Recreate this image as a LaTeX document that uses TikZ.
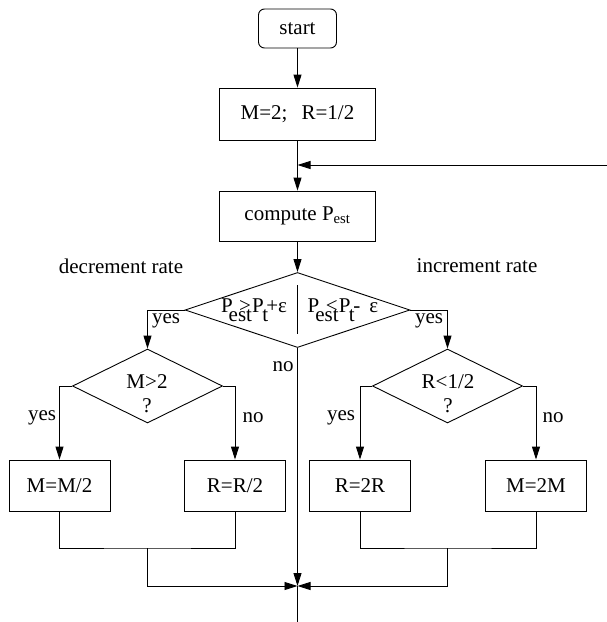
\documentclass[tikz,border=0pt]{standalone}
\usepackage{fontspec}
\setmainfont{Liberation Serif}
\usetikzlibrary{shapes.geometric,arrows.meta}
\newcommand{\lo}[2][0pt]{\rlap{\kern#1\raisebox{-9.5pt}{#2}}}
\begin{document}
\begin{tikzpicture}[x=1pt,y=-1pt,
  every node/.style={font=\fontsize{21}{24}\selectfont},
  line width=0.9pt,
  sbox/.style={draw, rectangle, minimum width=101pt, minimum height=51pt, inner sep=0pt},
  wbox/.style={draw, rectangle, minimum width=156pt, minimum height=51pt, inner sep=0pt},
  dia/.style={draw, diamond, inner sep=0pt, text=white},
  lbl/.style={inner sep=0pt},
  arr/.style={-{Triangle[length=13pt,width=8pt]}}]
\useasboundingbox (0,0) rectangle (607,622);

% top chain
\node[draw, rounded corners=6pt, minimum width=78pt, minimum height=39pt, inner sep=0pt] (start) at (297.5,28.5) {start};
\node[wbox, minimum height=52pt] (init) at (297.5,114) {M=2;\ \ \,R=1/2};
\node[wbox, minimum height=50pt] (comp) at (297.5,216) {compute P\textsubscript{est}};

% main decision
\node[dia, minimum width=225pt, minimum height=75pt] (d0) at (297.5,310) {};
\node[lbl, anchor=base] (c1) at (254,312) {P\lo[-4pt]{est}\kern6.5pt>\kern1pt P\lo[-1.5pt]{t}\kern2.5pt+ε};
\node[lbl, anchor=base] (c2) at (343,312) {P\lo[-4pt]{est}\kern6.5pt<\kern1pt P\lo[-1.5pt]{t}\kern3pt-\kern9ptε};

% sub decisions
\node[dia, minimum width=150pt, minimum height=74pt] (d1) at (147.5,386) {};
\node[lbl, align=center] (t1) at (147,394) {M>2\\?};
\node[dia, minimum width=150pt, minimum height=74pt] (d2) at (447.5,386) {};
\node[lbl, align=center] (t2) at (448,394) {R<1/2\\?};

% action boxes
\node[sbox] (b1) at (59.5,485.5) {M=M/2};
\node[sbox] (b2) at (235,485.5) {R=R/2};
\node[sbox] (b3) at (360,485.5) {R=2R};
\node[sbox] (b4) at (536,485.5) {M=2M};

% labels
\node[lbl] (ldec) at (121,266) {decrement rate};
\node[lbl] (linc) at (477,266) {increment rate};
\node[lbl] (ly0) at (166,321) {yes};
\node[lbl] (ly1) at (429,321) {yes};
\node[lbl] (ln0) at (283,367) {no};
\node[lbl] (ly2) at (42,418) {yes};
\node[lbl] (ln1) at (253,418) {no};
\node[lbl] (ly3) at (341,418) {yes};
\node[lbl] (ln2) at (553,418) {no};

% coordinates
\coordinate (fb) at (607,165);
\coordinate (fbj) at (297.5,165);
\coordinate (mL) at (147.5,548);
\coordinate (mR) at (447.5,548);
\coordinate (join) at (297.5,586);
\coordinate (bot) at (297.5,622);
\coordinate (dvt) at (297.5,285);
\coordinate (dvb) at (297.5,334);

% connectors
\draw[arr] (start) -- (init);
\draw (init) -- (fbj);
\draw[arr] (fbj) -- (comp);
\draw[arr] (fb) -- (fbj);
\draw[arr] (comp) -- (d0);
\draw (dvt) -- (dvb);
\draw[arr] (d0.west) -| (d1.north);
\draw[arr] (d0.east) -| (d2.north);
\draw[arr] (d0.south) -- (join);
\draw (join) -- (bot);
\draw[arr] (d1.west) -| (b1.north);
\draw[arr] (d1.east) -| (b2.north);
\draw[arr] (d2.west) -| (b3.north);
\draw[arr] (d2.east) -| (b4.north);
\draw (b1.south) |- (mL) -| (b2.south);
\draw (b3.south) |- (mR) -| (b4.south);
\draw[arr] (mL) |- (join);
\draw[arr] (mR) |- (join);
\end{tikzpicture}
\end{document}
